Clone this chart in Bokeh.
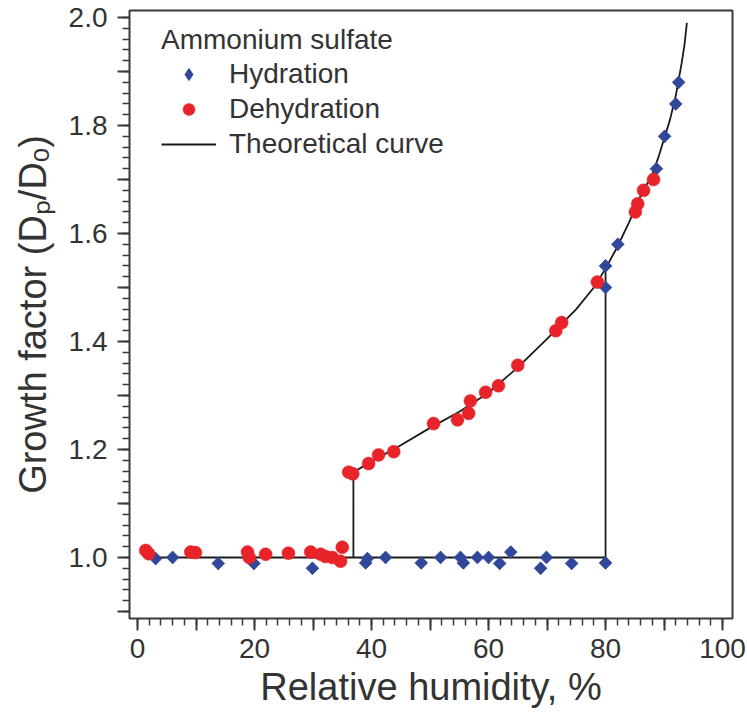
from bokeh.plotting import figure
from bokeh.models import Range1d, FixedTicker, Legend, LegendItem
from bokeh.embed import file_html
from bokeh.resources import INLINE

# ---- data ----
hyd_rh = [3.1, 6.0, 13.8, 19.9, 29.9, 39.0, 39.3, 42.4, 48.5, 51.8, 55.2, 55.7, 58.1,
          60.0, 61.9, 63.8, 68.9, 69.9, 74.2, 80.0, 80.0, 80.0, 82.1, 88.7, 90.1, 92.0, 92.5]
hyd_gf = [0.998, 1.0, 0.989, 0.989, 0.98, 0.99, 0.998, 1.0, 0.99, 1.0, 1.0, 0.99, 1.0,
          1.0, 0.989, 1.01, 0.98, 1.0, 0.989, 0.99, 1.50, 1.54, 1.58, 1.72, 1.78, 1.84, 1.88]

dehyd_rh = [1.4, 1.9, 9.1, 9.9, 18.8, 19.1, 21.9, 25.8, 29.6, 31.3, 32.1, 33.3, 34.7, 35.0,
            36.1, 36.8, 39.5, 41.2, 43.8, 50.6, 54.7, 56.6, 56.9, 59.5, 61.7, 65.0, 71.5,
            72.5, 78.6, 85.1, 85.5, 86.5, 88.2]
dehyd_gf = [1.013, 1.007, 1.01, 1.009, 1.01, 1.0, 1.006, 1.008, 1.01, 1.006, 1.002, 1.0,
            0.993, 1.019, 1.158, 1.155, 1.174, 1.19, 1.196, 1.248, 1.255, 1.267, 1.29, 1.306,
            1.318, 1.356, 1.42, 1.435, 1.51, 1.64, 1.655, 1.68, 1.70]

curve_rh = [36.9, 40, 45, 50, 55, 60, 65, 70, 75, 78, 80, 82, 84, 86, 88, 89, 90, 91, 92,
            93, 93.5, 93.9]
curve_gf = [1.158, 1.178, 1.208, 1.24, 1.27, 1.305, 1.352, 1.405, 1.46, 1.50, 1.535, 1.575,
            1.62, 1.67, 1.71, 1.74, 1.775, 1.81, 1.855, 1.915, 1.95, 1.99]

step_xs = [[1.5, 80.0, 80.0], [36.9, 36.9]]
step_ys = [[1.0, 1.0, 1.535], [1.0, 1.158]]

x_ticks = [0, 10, 20, 30, 40, 50, 60, 70, 80, 90, 100]
x_labels = {0: "0", 10: "", 20: "20", 30: "", 40: "40", 50: "", 60: "60", 70: "",
            80: "80", 90: "", 100: "100"}
y_ticks = [0.9, 1.0, 1.1, 1.2, 1.3, 1.4, 1.5, 1.6, 1.7, 1.8, 1.9, 2.0]
y_labels = {0.9: "", 1.0: "1.0", 1.1: "", 1.2: "1.2", 1.3: "", 1.4: "1.4", 1.5: "",
            1.6: "1.6", 1.7: "", 1.8: "1.8", 1.9: "", 2.0: "2.0"}
x_minor = [i * 2 for i in range(51)]
y_minor = [round(0.9 + i * 0.02, 2) for i in range(56)]

FONT = "Liberation Sans"
TXT = "#333333"
BLUE = "#31489a"
RED = "#e8242a"

p = figure(width=747, height=724, output_backend="svg", toolbar_location=None,
           x_range=Range1d(-1.37, 101.7), y_range=Range1d(0.887, 2.013),
           min_border_left=129, min_border_right=15, min_border_top=10,
           min_border_bottom=106)
p.grid.visible = False
p.background_fill_color = "white"
p.border_fill_color = "white"
p.outline_line_color = "#3a3a3a"
p.outline_line_width = 2

for ax, tk, mn, lab in ((p.xaxis[0], x_ticks, x_minor, x_labels),
                        (p.yaxis[0], y_ticks, y_minor, y_labels)):
    ax.ticker = FixedTicker(ticks=tk, minor_ticks=mn)
    ax.major_label_overrides = lab
    ax.axis_line_color = None
    ax.major_tick_in = 0
    ax.major_tick_out = 12
    ax.minor_tick_in = 0
    ax.minor_tick_out = 7
    ax.major_tick_line_color = "#3a3a3a"
    ax.minor_tick_line_color = "#3a3a3a"
    ax.major_tick_line_width = 2
    ax.minor_tick_line_width = 1.5
    ax.major_label_text_font = FONT
    ax.major_label_text_font_size = "28px"
    ax.major_label_text_color = TXT
    ax.axis_label_text_font = FONT
    ax.axis_label_text_font_size = "38px"
    ax.axis_label_text_font_style = "normal"
    ax.axis_label_text_color = TXT

p.xaxis[0].axis_label = "Relative humidity, %"
p.yaxis[0].axis_label = "Growth factor (Dₚ/Dₒ)"
p.xaxis[0].major_label_standoff = 8
p.xaxis[0].axis_label_standoff = 5
p.yaxis[0].major_label_standoff = 10
p.yaxis[0].axis_label_standoff = 12

p.multi_line(step_xs, step_ys, line_color="#1a1a1a", line_width=1.8)
curve = p.line(curve_rh, curve_gf, line_color="#1a1a1a", line_width=1.8)
# diamond glyph (used as the legend key) under rotated squares of the same points
hyd_key = p.scatter(hyd_rh, hyd_gf, marker="diamond", size=12, fill_color=BLUE,
                    line_color=BLUE, line_width=1)
hyd = p.scatter(hyd_rh, hyd_gf, marker="square", angle=0.785398, size=9,
                fill_color=BLUE, line_color=BLUE, line_width=0.8)
dehyd = p.scatter(dehyd_rh, dehyd_gf, marker="circle", size=13, fill_color=RED,
                  line_color=RED, line_width=0.5)

legend = Legend(items=[LegendItem(label="Hydration", renderers=[hyd_key]),
                       LegendItem(label="Dehydration", renderers=[dehyd]),
                       LegendItem(label="Theoretical curve", renderers=[curve])],
                location=(32, 458), title="Ammonium sulfate")
legend.title_text_font = FONT
legend.title_text_font_size = "28px"
legend.title_text_font_style = "normal"
legend.title_text_color = TXT
legend.label_text_font = FONT
legend.label_text_font_size = "28px"
legend.label_text_color = TXT
legend.background_fill_alpha = 0
legend.border_line_color = None
legend.padding = 10
legend.spacing = 3
legend.glyph_height = 30
legend.label_height = 30
legend.glyph_width = 55
legend.label_standoff = 13
legend.title_standoff = 2
p.add_layout(legend, "center")

open("out.html", "w").write(file_html(p, INLINE))
